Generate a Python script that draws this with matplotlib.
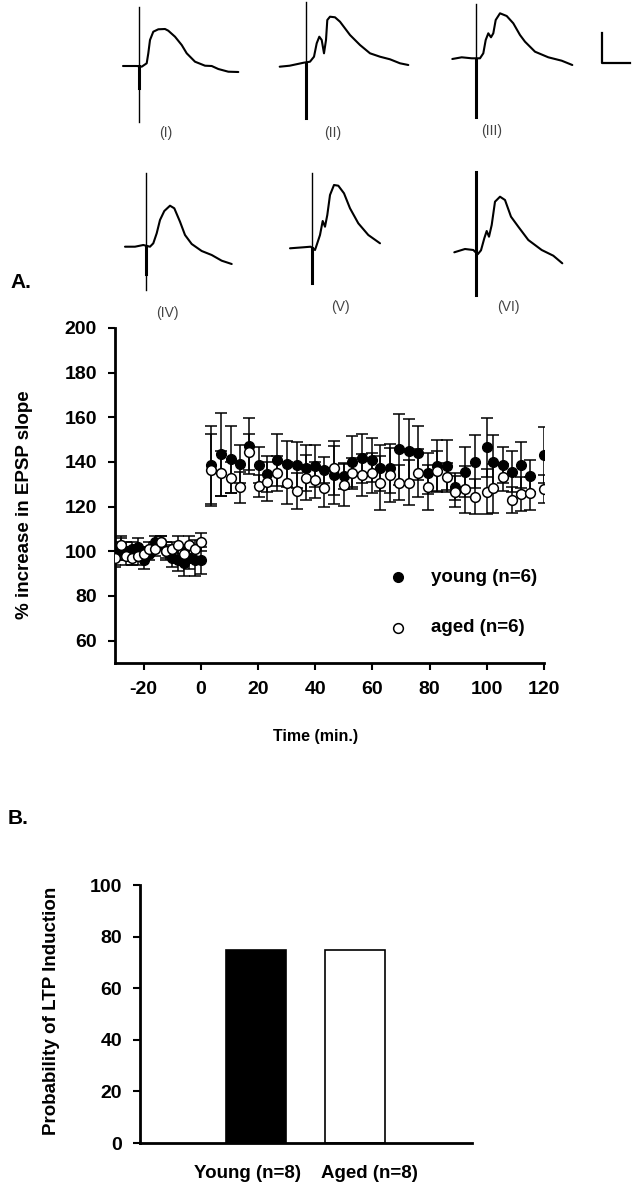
import numpy as np
import matplotlib
matplotlib.use('Agg')
import matplotlib.pyplot as plt

plt.rcParams['font.family'] = ['Liberation Sans', 'DejaVu Sans']
plt.rcParams['axes.unicode_minus'] = False

# ---- field potential traces (time rel. to stimulus, amplitude rel. to baseline) ----
trace_labels = ['(I)', '(II)', '(III)', '(IV)', '(V)', '(VI)']
trace_t = [
    [-16, -2, 2.7, 7.7, 9.3, 11, 14.3, 19.3, 26, 29.3, 36, 42.7, 47.7, 56, 66, 72.7, 79.3, 89.3, 99.3],
    [-26, -16, -2, 4.3, 8.3, 11, 13.6, 16, 18.3, 20.3, 21.6, 24.3, 29.3, 34.3, 44.3, 54.3, 64.3, 74.3, 84.3, 94.3, 102.6],
    [-23.7, -14.3, -4.3, 4, 7.3, 9.7, 12.3, 15, 17.3, 19.7, 24, 30.7, 37.3, 44, 49, 59, 72.3, 85.7, 96.3],
    [-21, -11, -2.7, 4, 7.3, 10.7, 14, 18.3, 24, 28.3, 34, 39, 45.7, 55.7, 65.7, 75.7, 85.7],
    [-22.3, -9, -1.6, 2.7, 4.4, 7.7, 10.4, 12.7, 15, 17.7, 21.7, 26, 31.7, 37.7, 46, 56, 67.7],
    [-21.4, -10.7, -2.4, 2, 5.3, 8.6, 11, 13.3, 16, 19.3, 24.3, 29.3, 35.3, 42.6, 52.6, 66, 77.6, 86.6],
]
trace_v = [
    [0, 0, -0.7, 2.7, 12.7, 26, 34.3, 36.7, 37, 35.3, 29.3, 21, 12.7, 4.3, 0.3, 0, -3, -5.7, -6],
    [-2.7, -1.7, 1.3, 2.3, 7.3, 20.7, 27.3, 24, 10.7, 24, 44, 47.3, 46.7, 42.3, 29, 19, 10.7, 7.3, 4.7, 0.7, -1],
    [-0.5, 1.2, 0.2, 0.2, 5.2, 18.5, 25.2, 21.2, 25.2, 38.5, 45.2, 42.5, 35.2, 23.5, 16.8, 6.8, 1.2, -2.2, -6.5],
    [-0.7, -0.7, 1, -0.7, 2.7, 12.7, 26, 35, 40.3, 37.7, 24.3, 11, 2, -5, -9, -14.7, -18],
    [-0.3, 0.7, 1.3, -2, 3, 13, 27, 21.3, 33, 53, 63, 62.3, 54.7, 39.7, 24.7, 13, 4.7],
    [-1.3, 2, 1, -3.3, 0.7, 12.7, 20, 14.3, 26, 49.3, 54.3, 51, 34.3, 24.3, 11, 1, -4.7, -12.3],
]
stim_top = [59, 62, 55, 73, 75, 79]
stim_bottom = [-56, -54, -58, -44, -35, -44]
stim_thick = [-22, -54, -58, -28, -35, -44]

# ---- panel A: time course of EPSP slope ----
time_young = [-30, -28, -26, -24, -22, -20, -18, -16, -14, -12, -10, -8, -6, -4, -2, 0,
              3.7, 7, 10.5, 13.8, 16.9, 20.2, 23.3, 26.8, 30.3, 33.5, 36.7, 40.1, 43.2, 46.5, 50,
              52.9, 56.4, 59.9, 62.8, 66.3, 69.2, 72.7, 76.1, 79.6, 82.6, 86, 88.9, 92.4, 95.9,
              100, 102.3, 105.6, 108.7, 112, 115.1, 120]
young = [99, 101, 100, 101, 102, 96, 99, 104, 104, 100, 97, 96, 95, 97, 96, 96,
         138.7, 143.5, 141.2, 139.1, 147.2, 138.7, 134.6, 140.9, 139.1, 138.7, 137.2, 138.2, 136.4, 134.2, 133.7,
         140.2, 141.7, 140.9, 137.2, 137.2, 145.7, 144.9, 143.9, 134.9, 138.2, 138.2, 129, 135.7, 140.2,
         146.6, 140.2, 138.7, 135.7, 138.7, 133.7, 143.1]
young_err = [5, 5, 4, 3, 4, 4, 3, 3, 3, 4, 4, 5, 6, 5, 7, 6,
             17.5, 18.5, 15, 8.5, 12.5, 8, 8, 11.6, 10.5, 10.4, 10.4, 9.4, 6, 13, 6,
             11.5, 11, 10, 10.4, 11, 16, 14.4, 12, 9.3, 11.7, 11.7, 6, 11.2, 12,
             13.3, 12, 8, 9.2, 10.4, 7, 12.7]

time_aged = time_young
aged = [97, 103, 98, 97, 98, 99, 101, 101, 104, 100, 101, 103, 99, 103, 101, 104,
        136.4, 134.9, 133, 128.7, 144.4, 129.3, 131.2, 134.9, 130.8, 127, 133, 132, 128.5, 137.2, 129.7,
        134.9, 134.2, 134.9, 130.5, 134.2, 130.8, 130.8, 135.1, 128.7, 136, 133.4, 126.7, 127.8, 124.5,
        126.7, 128.2, 133.1, 123, 125.7, 126, 127.8]
aged_err = [4, 4, 4, 3, 4, 3, 3, 3, 3, 3, 3, 4, 4, 4, 4, 4,
            16, 10, 7, 7, 8, 5, 8.6, 8, 9.4, 8, 10, 8, 8.8, 12, 9.4,
            7, 9.4, 9, 12, 12, 8, 10, 10.6, 10, 9, 6, 7, 10.5, 8,
            10, 11, 6, 6, 7.5, 7.5, 6.3]

# ---- panel B: probability of LTP induction ----
groups = ['Young (n=8)', 'Aged (n=8)']
ltp_prob = [75, 75]
bar_colors = ['black', 'white']

W, H = 638, 1190
fig = plt.figure(figsize=(W / 100, H / 100), dpi=100)

# overlay in pixel units for the traces and free text
ov = fig.add_axes([0, 0, 1, 1])
ov.set_xlim(0, W)
ov.set_ylim(H, 0)
ov.axis('off')

# where each trace sits (stimulus x, baseline y) and its label
origins = [(139, 66), (305.7, 64), (476, 58.5), (146, 246), (312.3, 248), (475.7, 251)]
label_pos = [(166, 133), (333, 133), (492, 131), (167, 313), (340, 307), (508, 307)]

for i in range(6):
    x0, y0 = origins[i]
    tx = np.array(trace_t[i]) + x0
    ty = y0 - np.array(trace_v[i])
    ov.plot(tx, ty, color='black', lw=1.5, solid_capstyle='round', solid_joinstyle='round')
    # stimulus artefact
    ov.plot([x0, x0], [y0 - stim_top[i], y0], color='black', lw=1.0 if i < 5 else 2.2)
    ov.plot([x0, x0], [y0, y0 - stim_thick[i]], color='black', lw=2.2)
    ov.plot([x0, x0], [y0 - stim_thick[i], y0 - stim_bottom[i]], color='black', lw=1.0)
    ov.text(label_pos[i][0], label_pos[i][1], trace_labels[i], fontsize=10, color='#444444',
            ha='center', va='center')

# scale bar
ov.plot([602, 602, 630], [33, 63, 63], color='black', lw=1.6)

ov.text(10, 283, 'A.', fontsize=15, fontweight='bold', va='center')
ov.text(8, 818, 'B.', fontsize=15, fontweight='bold', va='center')

# axis titles, placed by hand
ov.text(25, 505, '% increase in EPSP slope', fontsize=13.5, fontweight='bold',
        rotation=90, ha='center', va='center')
ov.text(316, 737, 'Time (min.)', fontsize=11.5, fontweight='bold', ha='center', va='center')
ov.text(52, 1011, 'Probability of LTP Induction', fontsize=13.5, fontweight='bold',
        rotation=90, ha='center', va='center')
ov.text(247, 1173, groups[0], fontsize=13.5, fontweight='bold', ha='center', va='center')
ov.text(369, 1173, groups[1], fontsize=13.5, fontweight='bold', ha='center', va='center')

# ---- panel A ----
ax = fig.add_axes([115 / W, 1 - 663 / H, 429 / W, 335 / H])
ax.errorbar(time_young, young, yerr=young_err, fmt='o', color='black', mfc='black', mec='black',
            ms=7, elinewidth=1.1, capsize=4, capthick=1.1, zorder=3)
ax.errorbar(time_aged, aged, yerr=aged_err, fmt='o', color='black', mfc='white', mec='black',
            ms=7, mew=1.1, elinewidth=1.1, capsize=4, capthick=1.1, zorder=4)
ax.set_xlim(-30, 120)
ax.set_ylim(50, 200)
ax.set_xticks([-20, 0, 20, 40, 60, 80, 100, 120])
ax.set_yticks(range(60, 201, 20))
for s in ['top', 'right']:
    ax.spines[s].set_visible(False)
for s in ['left', 'bottom']:
    ax.spines[s].set_linewidth(2)
ax.tick_params(direction='out', length=5, width=1.5, labelsize=14)
ax.tick_params(axis='x', pad=8)
ax.tick_params(axis='y', pad=8)
for lab in ax.get_xticklabels() + ax.get_yticklabels():
    lab.set_fontweight('bold')

# legend drawn by hand
ax.plot([68.8], [88.5], 'o', color='black', ms=7)
ax.plot([68.8], [65.7], 'o', mfc='white', mec='black', ms=7, mew=1.1)
ax.text(80.4, 88.5, 'young (n=6)', fontsize=13.5, fontweight='bold', va='center')
ax.text(80.4, 65.7, 'aged (n=6)', fontsize=13.5, fontweight='bold', va='center')

# ---- panel B ----
bx = fig.add_axes([140 / W, 1 - 1143 / H, 332 / W, 258 / H])
pos = [1, 2]
bx.bar(pos, ltp_prob, width=0.606, color=bar_colors, edgecolor='black', linewidth=1.2)
bx.set_xlim(1 - 116 / 99, 2 + 117 / 99)
bx.set_ylim(0, 100)
bx.set_yticks(range(0, 101, 20))
bx.set_xticks([])
for s in ['top', 'right']:
    bx.spines[s].set_visible(False)
for s in ['left', 'bottom']:
    bx.spines[s].set_linewidth(2)
bx.tick_params(axis='y', direction='out', length=5, width=1.5, labelsize=14, pad=8)
for lab in bx.get_yticklabels():
    lab.set_fontweight('bold')

fig.savefig('out.png', dpi=100)
